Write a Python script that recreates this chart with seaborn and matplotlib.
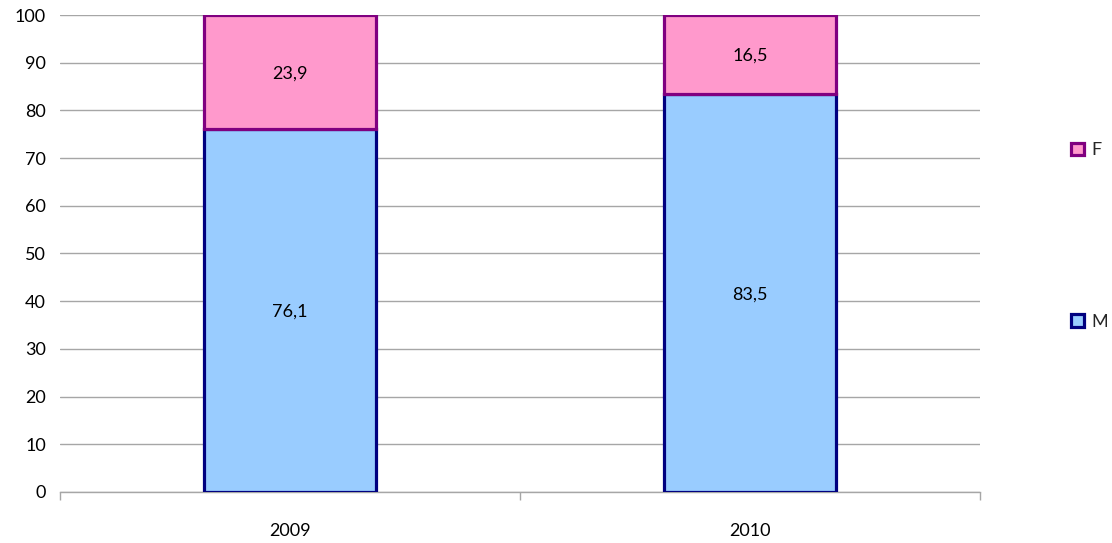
import matplotlib
matplotlib.use("Agg")
import matplotlib.pyplot as plt
import seaborn as sns
import pandas as pd
from matplotlib.patches import Patch

years = ["2009", "2010"]
m_values = [76.1, 83.5]
f_values = [23.9, 16.5]
y_ticks = [0, 10, 20, 30, 40, 50, 60, 70, 80, 90, 100]

sns.set_theme(style="white")
plt.rcParams["font.family"] = ["Lato", "DejaVu Sans"]

df = pd.DataFrame({"year": years, "M": m_values, "F": f_values})

fig = plt.figure(figsize=(11.12, 5.43), dpi=100)
ax = fig.add_axes([60 / 1112, 51 / 543, 920 / 1112, 477 / 543])

bar_w = 0.376
m_face, m_edge = "#99CCFF", "#000080"
f_face, f_edge = "#FF99CC", "#800080"
fs = 13

sns.barplot(data=df, x="year", y="M", ax=ax, color=m_face, width=bar_w,
            edgecolor=m_edge, linewidth=2.3, saturation=1, zorder=3)
sns.barplot(data=df, x="year", y="F", ax=ax, color=f_face, width=bar_w,
            edgecolor=f_edge, linewidth=2.3, saturation=1, zorder=3,
            bottom=df["M"].values)

for i, (m, f) in enumerate(zip(m_values, f_values)):
    ax.text(i, m / 2, f"{m:.1f}".replace(".", ","), ha="center", va="center_baseline",
            fontsize=fs, color="black", zorder=5)
    ax.text(i, m + f / 2, f"{f:.1f}".replace(".", ","), ha="center", va="center_baseline",
            fontsize=fs, color="black", zorder=5)

ax.set_xlim(-0.5, 1.5)
ax.set_ylim(0, 100)
ax.set_yticks(y_ticks)
ax.set_yticklabels([str(t) for t in y_ticks], fontsize=fs)
ax.set_xticks([0, 1])
ax.set_xticklabels(years, fontsize=fs)
ax.set_xlabel("")
ax.set_ylabel("")
ax.yaxis.grid(True, color="#A6A6A6", linewidth=1, zorder=0)
ax.set_axisbelow(True)

for side in ["top", "right", "left"]:
    ax.spines[side].set_visible(False)
ax.spines["bottom"].set_color("#A6A6A6")
ax.spines["bottom"].set_linewidth(1)
ax.tick_params(axis="y", length=0, pad=10, colors="black")
ax.tick_params(axis="x", which="major", length=0, pad=22, colors="black")

# category separator ticks on the x axis
ax.set_xticks([-0.5, 0.5, 1.5], minor=True)
ax.tick_params(axis="x", which="minor", bottom=True, length=6, color="#A6A6A6",
               direction="out", width=1)

handles = [Patch(facecolor=f_face, edgecolor=f_edge, linewidth=2.3, label="F"),
           Patch(facecolor=m_face, edgecolor=m_edge, linewidth=2.3, label="M")]
fig.legend(handles=handles, loc="center left", bbox_to_anchor=(1062 / 1112, 1 - 236 / 543),
           frameon=False, fontsize=fs, labelspacing=8.6, handlelength=0.7,
           handleheight=0.7, handletextpad=0.4, borderpad=0)

fig.savefig("out.png", dpi=100)
